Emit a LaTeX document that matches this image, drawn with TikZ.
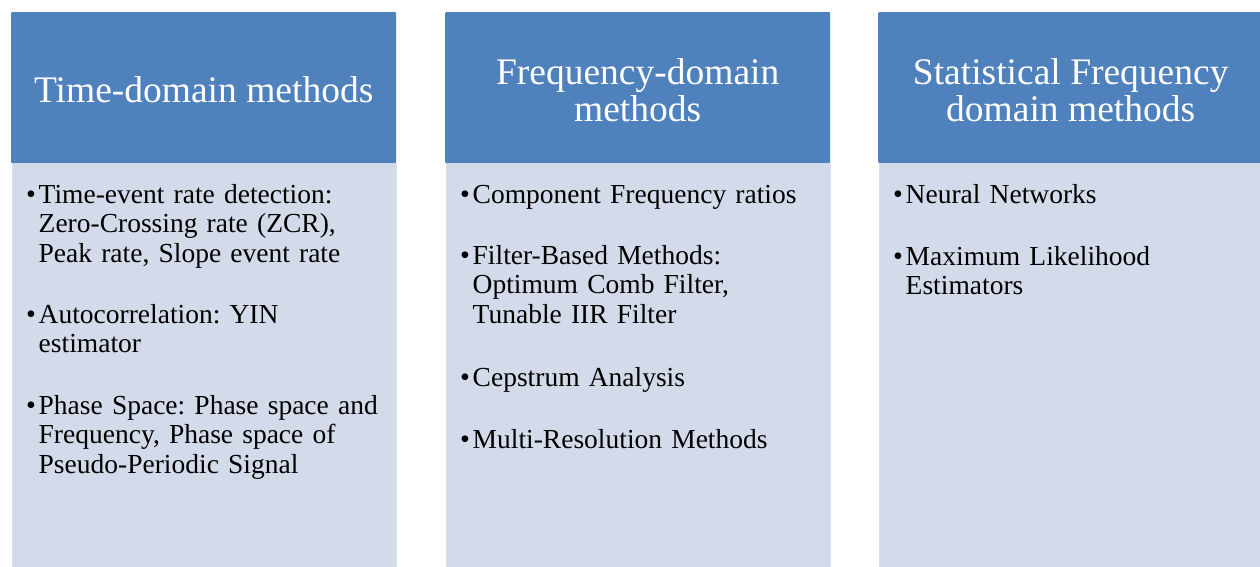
\documentclass[tikz,border=0pt]{standalone}
\usepackage{fontspec}
\setmainfont{Liberation Serif}
\frenchspacing
\definecolor{headblue}{HTML}{4F81BD}
\definecolor{bodyfill}{HTML}{D3DAEA}
\definecolor{bodyedge}{HTML}{DAE0EE}
\begin{document}
\begin{tikzpicture}[x=1pt,y=-1pt,
  header/.style={fill=headblue, draw=none, anchor=north west, inner sep=0pt,
    minimum width=385pt, minimum height=151pt, rounded corners=1pt},
  htext/.style={text=white, align=center, inner sep=0pt, yshift=-2pt,
    font=\fontsize{37.5}{37}\selectfont},
  body/.style={fill=bodyfill, draw=bodyedge, line width=1pt, anchor=north west,
    inner sep=0pt, minimum width=384pt, minimum height=406pt},
  bul/.style={anchor=base west, inner sep=0pt, font=\fontsize{28}{29.5}\selectfont},
  entry/.style={anchor=base west, inner sep=0pt, text width=360pt, align=left,
    font=\fontsize{27.5}{29.5}\selectfont},
]
\useasboundingbox (0,0) rectangle (1260,567);

% column boxes
\node[body] (b1) at (11.5,163) {};
\node[body] (b2) at (445.5,163) {};
\node[body] (b3) at (878.5,163) {};
\node[header] (h1) at (11,12) {};
\node[header] (h2) at (445,12) {};
\node[header] (h3) at (878,12) {};

% column titles
\node[htext] (l1) at (h1.center) {Time-domain methods};
\node[htext] (l2) at (h2.center) {Frequency-domain\\methods};
\node[htext] (l3) at (h3.center) {Statistical Frequency\\domain methods};

% time-domain items
\node[bul] (p11) at (26,203) {\textbullet};
\node[entry] (t11) at (38.5,203) {Time-event rate detection:\\Zero-Crossing rate (ZCR),\\Peak rate, Slope event rate};
\node[bul] (p12) at (26,323) {\textbullet};
\node[entry] (t12) at (38.5,323) {Autocorrelation: YIN\\estimator};
\node[bul] (p13) at (26,414) {\textbullet};
\node[entry] (t13) at (38.5,414) {Phase Space: Phase space and\\Frequency, Phase space of\\Pseudo-Periodic Signal};

% frequency-domain items
\node[bul] (p21) at (460,203) {\textbullet};
\node[entry] (t21) at (472.5,203) {Component Frequency ratios};
\node[bul] (p22) at (460,264) {\textbullet};
\node[entry] (t22) at (472.5,264) {Filter-Based Methods:\\Optimum Comb Filter,\\Tunable IIR Filter};
\node[bul] (p23) at (460,386) {\textbullet};
\node[entry] (t23) at (472.5,386) {Cepstrum Analysis};
\node[bul] (p24) at (460,448) {\textbullet};
\node[entry] (t24) at (472.5,448) {Multi-Resolution Methods};

% statistical items
\node[bul] (p31) at (893,203) {\textbullet};
\node[entry] (t31) at (905.5,203) {Neural Networks};
\node[bul] (p32) at (893,265) {\textbullet};
\node[entry] (t32) at (905.5,265) {Maximum Likelihood\\Estimators};
\end{tikzpicture}
\end{document}
